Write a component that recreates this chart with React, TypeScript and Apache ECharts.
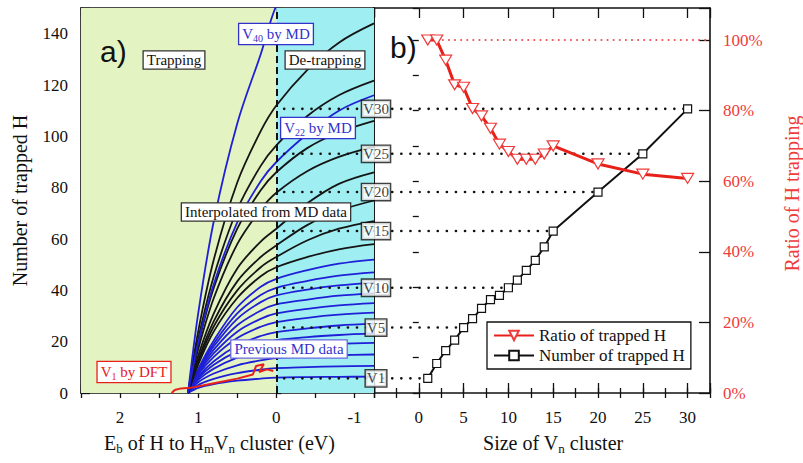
import React, { useEffect, useRef } from 'react';
import * as echarts from 'echarts';

// ---------- Panel a): number of trapped H vs binding energy ----------
const E_GRID = [1.13, 1.0, 0.8, 0.5, 0.2, 0, -0.4, -0.8, -1.25];

// blue curves, "Previous MD data" (values of m at each E_GRID point)
const PREVIOUS_MD_CURVES = [
  [0, 2.0, 3.5, 4.8, 5.6, 6.0, 6.2, 6.3, 6.4],
  [0, 3.1, 5.5, 7.7, 9.1, 9.7, 10.1, 10.4, 10.6],
  [0, 4.2, 7.6, 10.8, 12.7, 13.6, 14.2, 14.7, 15.0],
  [0, 5.1, 9.5, 13.8, 16.4, 17.5, 18.4, 19.1, 19.5],
  [0, 5.8, 11.0, 16.2, 19.3, 20.6, 21.8, 22.6, 23.2],
  [0, 6.4, 12.4, 18.5, 22.2, 23.7, 25.2, 26.3, 27.0],
  [0, 7.2, 14.1, 21.4, 25.8, 27.6, 29.3, 30.5, 31.3],
  [0, 7.8, 15.5, 23.9, 28.9, 31.0, 32.8, 34.1, 35.0],
  [0, 8.3, 16.9, 26.4, 32.1, 34.5, 36.4, 37.9, 38.8],
  [0, 8.7, 18.2, 28.9, 35.4, 38.0, 40.3, 41.9, 43.0],
  [0, 9.0, 19.3, 31.0, 38.2, 41.0, 43.7, 45.7, 47.0],
  [0, 9.3, 20.5, 33.4, 41.4, 44.5, 47.9, 50.4, 52.0],
];

// black curves, "Interpolated from MD data"
const INTERPOLATED_CURVES = [
  [0, 11, 24, 37, 45.5, 49, 53, 56, 58],
  [0, 12, 26, 40, 49, 53, 59.5, 64, 67],
  [0, 13, 28, 43.5, 53, 57.5, 65.5, 71, 75],
  [0, 14.5, 31, 48.5, 59, 64, 74, 81.5, 86],
  [0, 17, 37, 58, 71.5, 78, 86.5, 92, 96],
  [0, 19, 41, 64, 79, 86, 95.5, 101.5, 106],
  [0, 21, 45.5, 71.5, 88.5, 96.5, 108, 116, 121.7],
  [0, 24, 52, 82, 102, 112, 126, 136.5, 144],
];

const V22_MD_CURVE = [0, 19.5, 42.5, 66.5, 82.5, 90, 101, 110, 116];
const V40_MD_CURVE = [0, 31, 67, 105, 132, 151, 175, 195, 215];

const V1_DFT_E = [1.34, 1.3, 1.22, 1.1, 0.8, 0.5, 0.3, 0.26, 0.16, 0.22, 0.12, 0.04];
const V1_DFT_M = [0, 1.2, 1.8, 2.0, 3.8, 5.6, 7.2, 10.5, 11.2, 8.2, 9.2, 8.6];

// ---------- Panel b): trapped H vs cluster size ----------
const CLUSTER_SIZE = [1, 2, 3, 4, 5, 6, 7, 8, 9, 10, 11, 12, 13, 14, 15, 20, 25, 30];
const TRAPPED_NUMBER = [5.7, 11.5, 16.5, 20.6, 25.5, 29, 33, 36.4, 38, 41, 44, 47.8, 51.7, 56.9, 63.1, 78.3, 93.2, 110.7];
const TRAPPED_RATIO = [1.0, 1.0, 0.943, 0.873, 0.866, 0.806, 0.785, 0.75, 0.705, 0.684, 0.662, 0.662, 0.662, 0.677, 0.7, 0.649, 0.62, 0.608];
const LABELLED_SIZES = [1, 5, 10, 15, 20, 25, 30];
const FULL_RATIO = 1.0;
const FULL_RATIO_FROM = 2;

// axis ranges
const E_MIN = -1.25;
const E_MAX = 2.5;
const M_MAX = 150;
const N_MIN = -5;
const N_MAX = 32.5;
const RATIO_MAX = 1.0907;
const DOTTED_E_START = -0.1;

const SERIF = '"Liberation Serif", "Times New Roman", "DejaVu Serif", serif';
const SANS = '"Liberation Sans", Arial, sans-serif';
const TXT = '#111';
const BLUE = '#1f1fd8';
const BLUE_TXT = '#3333cc';
const RED = '#e8201a';
const RED_TXT = '#ee3b3b';
const GREEN_BG = '#e3f4c2';
const CYAN_BG = '#9feef2';

const tickLine = { color: TXT, width: 1.3 };
const mainLine = { show: true, onZero: false, lineStyle: { color: TXT, width: 1.6 } };
const subRich = {
  s: { fontSize: 13, fontFamily: SERIF, verticalAlign: 'bottom', lineHeight: 6 },
};
const dotStyle = { color: TXT, width: 2.6, type: [0.1, 9], cap: 'round' };

function isMult(v: number, step: number) {
  return Math.abs(v / step - Math.round(v / step)) < 1e-6;
}

function eAxis(position: string, major: boolean, withLabel: boolean) {
  const step = major ? 1 : 0.5;
  return {
    gridIndex: 0,
    type: 'value',
    position,
    inverse: true,
    min: E_MIN,
    max: E_MAX,
    minInterval: step,
    maxInterval: step,
    axisLine: major ? mainLine : { show: false },
    axisTick: { show: true, inside: true, length: major ? 9 : 5, lineStyle: tickLine },
    axisLabel: withLabel
      ? {
          show: true,
          margin: 16,
          fontSize: 17,
          fontFamily: SERIF,
          color: TXT,
          formatter: (v: number) => (isMult(v, 1) ? String(Math.round(v)) : ''),
        }
      : { show: false },
    splitLine: { show: false },
    ...(withLabel
      ? {
          name: 'E{s|b} of H to H{s|m}V{s|n} cluster (eV)',
          nameLocation: 'middle',
          nameGap: 36,
          nameTextStyle: { fontSize: 20, lineHeight: 24, fontFamily: SERIF, color: TXT, padding: [0, 16, 0, 0], rich: subRich },
        }
      : {}),
  };
}

function nAxis(position: string, major: boolean, withLabel: boolean) {
  return {
    gridIndex: 1,
    type: 'value',
    position,
    min: N_MIN,
    max: N_MAX,
    interval: major ? 5 : 2.5,
    axisLine: major ? mainLine : { show: false },
    axisTick: { show: true, inside: true, length: major ? 10 : 5, lineStyle: tickLine },
    axisLabel: withLabel
      ? {
          show: true,
          margin: 16,
          fontSize: 17,
          fontFamily: SERIF,
          color: TXT,
          formatter: (v: number) => (v >= 0 && v <= 30 && isMult(v, 5) ? String(Math.round(v)) : ''),
        }
      : { show: false },
    splitLine: { show: false },
    ...(withLabel
      ? {
          name: 'Size of V{s|n} cluster',
          nameLocation: 'middle',
          nameGap: 36,
          nameTextStyle: { fontSize: 20, lineHeight: 24, fontFamily: SERIF, color: TXT, padding: [0, 0, 0, 22], rich: subRich },
        }
      : {}),
  };
}

function boxedText(x: number, y: number, text: string, color: string, border: string, rich?: any) {
  return {
    type: 'text',
    x,
    y,
    z: 100,
    style: {
      text,
      fill: color,
      fontSize: 15,
      fontFamily: SERIF,
      align: 'center',
      verticalAlign: 'middle',
      backgroundColor: '#fff',
      borderColor: border,
      borderWidth: 1.3,
      padding: [1, 3, 1, 3],
      rich,
    },
  };
}

function buildOption() {
  const series: any[] = [];

  // background regions
  series.push({
    type: 'line',
    xAxisIndex: 0,
    yAxisIndex: 0,
    data: [],
    silent: true,
    z: 1,
    markArea: {
      silent: true,
      data: [
        [{ xAxis: E_MAX, itemStyle: { color: GREEN_BG } }, { xAxis: 0 }],
        [{ xAxis: 0, itemStyle: { color: CYAN_BG } }, { xAxis: E_MIN }],
      ],
    },
  });

  const curve = (vals: number[], color: string) => ({
    type: 'line',
    xAxisIndex: 0,
    yAxisIndex: 0,
    data: E_GRID.map((e, i) => [e, vals[i]]),
    smooth: 0.35,
    symbol: 'none',
    silent: true,
    z: 3,
    lineStyle: { color, width: 1.8 },
  });
  PREVIOUS_MD_CURVES.forEach((c) => series.push(curve(c, BLUE)));
  INTERPOLATED_CURVES.forEach((c) => series.push(curve(c, '#151515')));
  series.push(curve(V22_MD_CURVE, BLUE));
  series.push(curve(V40_MD_CURVE, BLUE));

  series.push({
    type: 'line',
    xAxisIndex: 0,
    yAxisIndex: 0,
    data: V1_DFT_E.map((e, i) => [e, V1_DFT_M[i]]),
    symbol: 'none',
    silent: true,
    z: 4,
    lineStyle: { color: RED, width: 2 },
  });

  // E = 0 dashed line
  series.push({
    type: 'line',
    xAxisIndex: 0,
    yAxisIndex: 0,
    data: [],
    silent: true,
    z: 5,
    markLine: {
      silent: true,
      symbol: 'none',
      label: { show: false },
      lineStyle: { type: [7, 4], color: TXT, width: 2 },
      data: [{ xAxis: 0 }],
    },
  });

  // dotted guide lines
  LABELLED_SIZES.forEach((n) => {
    const m = TRAPPED_NUMBER[CLUSTER_SIZE.indexOf(n)];
    series.push({
      type: 'line',
      xAxisIndex: 0,
      yAxisIndex: 0,
      data: [
        [DOTTED_E_START, m],
        [E_MIN, m],
      ],
      symbol: 'none',
      silent: true,
      z: 5,
      lineStyle: dotStyle,
    });
    series.push({
      type: 'line',
      xAxisIndex: 4,
      yAxisIndex: 3,
      data: [
        [N_MIN, m],
        [n, m],
      ],
      symbol: 'none',
      silent: true,
      z: 5,
      lineStyle: dotStyle,
    });
  });

  // 100 % dotted line
  series.push({
    type: 'line',
    xAxisIndex: 4,
    yAxisIndex: 4,
    data: [
      [FULL_RATIO_FROM, FULL_RATIO],
      [N_MAX, FULL_RATIO],
    ],
    symbol: 'none',
    silent: true,
    z: 5,
    lineStyle: { color: '#f05050', width: 2, type: [0.1, 6], cap: 'round' },
  });

  series.push({
    name: 'Number of trapped H',
    type: 'line',
    xAxisIndex: 4,
    yAxisIndex: 3,
    data: CLUSTER_SIZE.map((n, i) => [n, TRAPPED_NUMBER[i]]),
    symbol: 'rect',
    symbolSize: 8,
    showAllSymbol: true,
    z: 8,
    lineStyle: { color: TXT, width: 2 },
    itemStyle: { color: '#fff', borderColor: TXT, borderWidth: 1.2 },
  });

  series.push({
    name: 'Ratio of trapped H',
    type: 'line',
    xAxisIndex: 4,
    yAxisIndex: 4,
    data: CLUSTER_SIZE.map((n, i) => [n, TRAPPED_RATIO[i]]),
    symbol: 'path://M0,0 L10,0 L5,9 Z',
    symbolSize: [12, 10],
    showAllSymbol: true,
    z: 9,
    lineStyle: { color: RED, width: 3 },
    itemStyle: { color: '#fff', borderColor: '#f03a3a', borderWidth: 1.2 },
  });

  // V_n labels
  series.push({
    type: 'scatter',
    xAxisIndex: 4,
    yAxisIndex: 3,
    data: LABELLED_SIZES.map((n) => [N_MIN, TRAPPED_NUMBER[CLUSTER_SIZE.indexOf(n)], n]),
    symbol: 'rect',
    symbolSize: 1,
    clip: false,
    silent: true,
    z: 12,
    itemStyle: { color: 'rgba(0,0,0,0)' },
    label: {
      show: true,
      position: 'inside',
      offset: [2, 0],
      formatter: (p: any) => 'V' + p.value[2],
      backgroundColor: '#fff',
      borderColor: '#111',
      borderWidth: 1.4,
      padding: [1, 1, 0, 1],
      fontSize: 15,
      fontFamily: SERIF,
      color: TXT,
    },
  });

  const rich = (color: string) => ({
    n: { fontSize: 15, fontFamily: SERIF, color, lineHeight: 18, verticalAlign: 'middle' },
    s: { fontSize: 10, fontFamily: SERIF, color, lineHeight: 7, verticalAlign: 'bottom' },
  });

  return {
    animation: false,
    backgroundColor: '#fff',
    grid: [
      { left: 81, top: 8, width: 293, height: 385, outerBoundsMode: 'none' },
      { left: 374, top: 8, width: 336, height: 385, outerBoundsMode: 'none' },
    ],
    xAxis: [
      eAxis('bottom', true, true),
      eAxis('bottom', false, false),
      eAxis('top', true, false),
      eAxis('top', false, false),
      nAxis('bottom', true, true),
      nAxis('bottom', false, false),
      nAxis('top', true, false),
      nAxis('top', false, false),
    ],
    yAxis: [
      {
        gridIndex: 0,
        type: 'value',
        position: 'left',
        min: 0,
        max: M_MAX,
        interval: 20,
        axisLine: mainLine,
        axisTick: { show: true, inside: true, length: 9, lineStyle: tickLine },
        axisLabel: {
          margin: 13,
          fontSize: 17,
          fontFamily: SERIF,
          color: TXT,
          formatter: (v: number) => (isMult(v, 20) ? String(v) : ''),
        },
        splitLine: { show: false },
        name: 'Number of trapped H',
        nameLocation: 'middle',
        nameRotate: 90,
        nameGap: 51,
        nameTextStyle: { fontSize: 20, fontFamily: SERIF, color: TXT },
      },
      {
        gridIndex: 0,
        type: 'value',
        position: 'left',
        min: 0,
        max: M_MAX,
        interval: 10,
        axisLine: { show: false },
        axisTick: { show: true, inside: true, length: 5, lineStyle: tickLine },
        axisLabel: { show: false },
        splitLine: { show: false },
      },
      {
        gridIndex: 0,
        type: 'value',
        position: 'right',
        min: 0,
        max: M_MAX,
        axisLine: mainLine,
        axisTick: { show: false },
        axisLabel: { show: false },
        splitLine: { show: false },
      },
      {
        gridIndex: 1,
        type: 'value',
        position: 'left',
        min: 0,
        max: M_MAX,
        axisLine: mainLine,
        axisTick: { show: false },
        axisLabel: { show: false },
        splitLine: { show: false },
      },
      {
        gridIndex: 1,
        type: 'value',
        position: 'right',
        min: 0,
        max: RATIO_MAX,
        interval: 0.2,
        axisLine: mainLine,
        axisTick: { show: true, inside: true, length: 11, lineStyle: tickLine },
        axisLabel: {
          margin: 13,
          fontSize: 17,
          fontFamily: SERIF,
          color: RED_TXT,
          formatter: (v: number) => (isMult(v, 0.2) && v <= 1.0001 ? Math.round(v * 100) + '%' : ''),
        },
        splitLine: { show: false },
        name: 'Ratio of H trapping',
        nameLocation: 'middle',
        nameRotate: 90,
        nameGap: 72,
        nameTextStyle: { fontSize: 20, fontFamily: SERIF, color: RED_TXT, padding: [0, 0, 0, 14] },
      },
      {
        gridIndex: 1,
        type: 'value',
        position: 'right',
        min: 0,
        max: RATIO_MAX,
        interval: 0.1,
        axisLine: { show: false },
        axisTick: { show: true, inside: true, length: 6, lineStyle: tickLine },
        axisLabel: { show: false },
        splitLine: { show: false },
      },
    ],
    legend: {
      data: ['Ratio of trapped H', 'Number of trapped H'],
      orient: 'vertical',
      left: 487,
      top: 322,
      itemWidth: 40,
      itemHeight: 12,
      itemGap: 3,
      itemTextGap: 3,
      padding: [5, 6, 5, 6],
      borderColor: TXT,
      borderWidth: 1.3,
      backgroundColor: '#fff',
      textStyle: { fontSize: 17, fontFamily: SERIF, color: TXT },
      z: 20,
    },
    graphic: [
      { type: 'text', x: 100, y: 51, z: 100, style: { text: 'a)', fontSize: 30, fontFamily: SANS, fill: TXT, verticalAlign: 'middle' } },
      { type: 'text', x: 390, y: 47, z: 100, style: { text: 'b)', fontSize: 30, fontFamily: SANS, fill: TXT, verticalAlign: 'middle' } },
      boxedText(174, 60, 'Trapping', TXT, '#333'),
      boxedText(325, 60, 'De-trapping', TXT, '#333'),
      boxedText(266, 212, 'Interpolated from MD data', TXT, '#333'),
      boxedText(289, 349, 'Previous MD data', BLUE_TXT, '#6a6ae0'),
      boxedText(276, 34, '{n|V}{s|40}{n| by MD}', BLUE_TXT, BLUE_TXT, rich(BLUE_TXT)),
      boxedText(318, 128, '{n|V}{s|22}{n| by MD}', BLUE_TXT, BLUE_TXT, rich(BLUE_TXT)),
      boxedText(134, 372, '{n|V}{s|1}{n| by DFT}', RED, RED, rich(RED)),
    ],
    series,
  };
}

export default function App() {
  const ref = useRef<HTMLDivElement>(null);
  useEffect(() => {
    const chart = echarts.init(ref.current as HTMLDivElement, null, { renderer: 'svg', width: 803, height: 463 });
    chart.setOption(buildOption() as any);
    return () => chart.dispose();
  }, []);
  return (
    <div
      ref={ref}
      style={{ position: 'absolute', left: 0, top: 0, width: 803, height: 463, background: '#fff' }}
    />
  );
}
